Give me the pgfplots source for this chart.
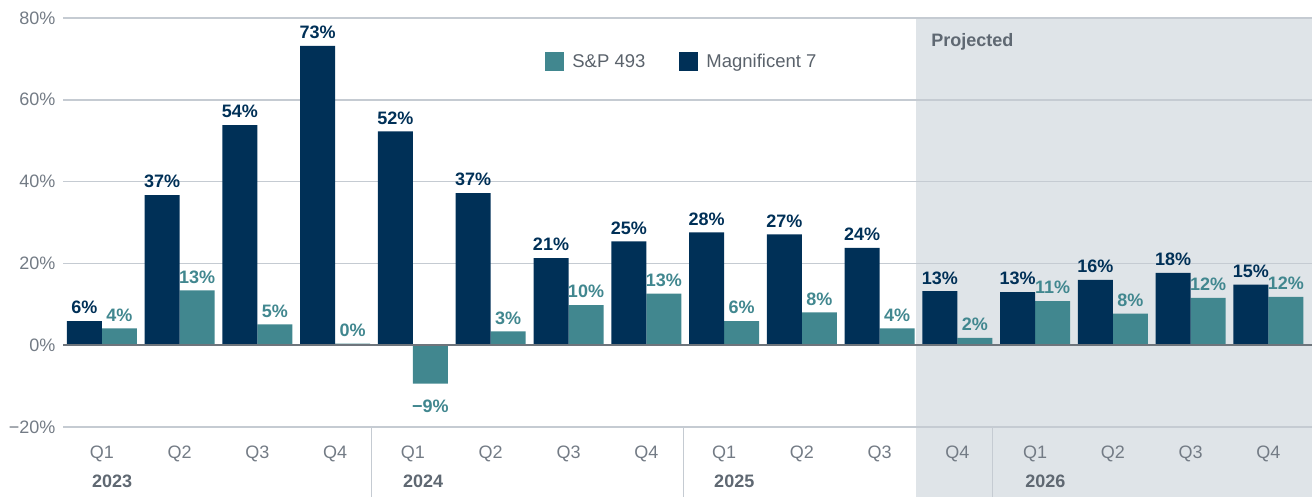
\documentclass[border=0pt]{standalone}
\usepackage{fontspec}
\setmainfont{Liberation Sans}
\usepackage{pgfplots}
\usepackage{pgfplotstable}
\pgfplotsset{compat=1.18}
\definecolor{navy}{HTML}{003057}
\definecolor{teal}{HTML}{41878F}
\definecolor{shadec}{HTML}{DFE4E8}
\definecolor{gridc}{HTML}{C5CBD2}
\definecolor{zeroc}{HTML}{6E757C}
\definecolor{tickc}{HTML}{737B85}
\definecolor{yearc}{HTML}{5F6872}
\definecolor{legc}{HTML}{5A626B}

\pgfplotstableread{
x mag sp maglab splab
0 5.9 4.1 6 4
1 36.7 13.4 37 13
2 53.8 5.1 54 5
3 73.2 0.4 73 0
4 52.3 -9.4 52 −9
5 37.2 3.4 37 3
6 21.3 9.8 21 10
7 25.4 12.6 25 13
8 27.6 5.9 28 6
9 27.1 8.0 27 8
10 23.8 4.1 24 4
11 13.2 1.8 13 2
12 13.0 10.8 13 11
13 16.0 7.7 16 8
14 17.7 11.6 18 12
15 14.8 11.8 15 12
}\data

\begin{document}
\begin{tikzpicture}
\begin{axis}[
  set layers,
  at={(0,0)}, anchor=south west,
  scale only axis, width=1249pt, height=409pt,
  xmin=-0.5, xmax=15.56, ymin=-20, ymax=80,
  clip=false,
  axis line style={draw=none},
  major tick length=0pt,
  tick style={draw=none},
  ytick={-20,0,20,40,60,80},
  yticklabels={−20\%,0\%,20\%,40\%,60\%,80\%},
  xtick={0,...,15},
  xticklabels={Q1,Q2,Q3,Q4,Q1,Q2,Q3,Q4,Q1,Q2,Q3,Q4,Q1,Q2,Q3,Q4},
  ticklabel style={font=\fontsize{18}{21}\selectfont, text=tickc},
  yticklabel style={anchor=east, xshift=-4pt},
  xticklabel style={anchor=center, yshift=-27pt},
  ybar=0pt, bar width=0.45,
  point meta=explicit symbolic,
  nodes near coords={\pgfplotspointmeta\%},
  nodes near coords style={font=\fontsize{18}{21}\selectfont\bfseries, inner sep=3pt, outer sep=4pt},
  legend style={draw=none, fill=none, at={(axis cs:5.70,69.4)}, anchor=west,
    legend columns=2, font=\fontsize{18.5}{21}\selectfont, text=legc, inner sep=0pt,
    /tikz/every even column/.append style={column sep=34pt},
    /tikz/every odd column/.append style={column sep=8pt},
    nodes={inner sep=0pt}},
  legend image code/.code={\fill[#1,draw=none] (0pt,-9.5pt) rectangle (19pt,9.5pt);},
]
\begin{pgfonlayer}{axis background}
% projected shading
\fill[shadec] (axis cs:10.47,80) rectangle ([yshift=-70pt]axis cs:15.56,-20);
% grid lines
\pgfplotsinvokeforeach{-20,20,40,60,80}{
  \draw[gridc, line width=1.5pt] (axis cs:-0.5,#1) -- (axis cs:15.56,#1);
}
% year separators
\pgfplotsinvokeforeach{3.47,7.48,11.45}{
  \draw[gridc, line width=1.5pt] (axis cs:#1,-20) -- ([yshift=-70pt]axis cs:#1,-20);
}
\end{pgfonlayer}
\addplot[fill=teal, draw=none, bar shift=0.225,
  visualization depends on={\thisrow{sp} \as \rawy},
  nodes near coords style={text=teal,
    anchor={\ifdim\rawy pt<0pt north\else south\fi},
    yshift={\ifdim\rawy pt<0pt -9pt\else 0pt\fi}}]
  table[x=x, y=sp, meta=splab] {\data};
\addlegendentry{S\&P 493}
\addplot[fill=navy, draw=none, bar shift=-0.225, nodes near coords style={text=navy}]
  table[x=x, y=mag, meta=maglab] {\data};
\addlegendentry{Magnificent 7}
% zero line
\draw[zeroc, line width=2pt] (axis cs:-0.5,0) -- (axis cs:15.56,0);
% year labels
\node[anchor=west, inner sep=0pt, xshift=-10pt, yshift=-54pt, text=yearc,
      font=\fontsize{18}{21}\selectfont\bfseries] at (axis cs:0,-20) {2023};
\node[anchor=west, inner sep=0pt, xshift=-10pt, yshift=-54pt, text=yearc,
      font=\fontsize{18}{21}\selectfont\bfseries] at (axis cs:4,-20) {2024};
\node[anchor=west, inner sep=0pt, xshift=-10pt, yshift=-54pt, text=yearc,
      font=\fontsize{18}{21}\selectfont\bfseries] at (axis cs:8,-20) {2025};
\node[anchor=west, inner sep=0pt, xshift=-10pt, yshift=-54pt, text=yearc,
      font=\fontsize{18}{21}\selectfont\bfseries] at (axis cs:12,-20) {2026};
\node[anchor=west, inner sep=0pt, xshift=15pt, yshift=-24pt, text=yearc,
      font=\fontsize{18}{21}\selectfont\bfseries] at (axis cs:10.47,80) {Projected};
\end{axis}
\pgfresetboundingbox
\path[use as bounding box] (-63pt,-70pt) rectangle (1249pt,427pt);
\end{tikzpicture}
\end{document}
